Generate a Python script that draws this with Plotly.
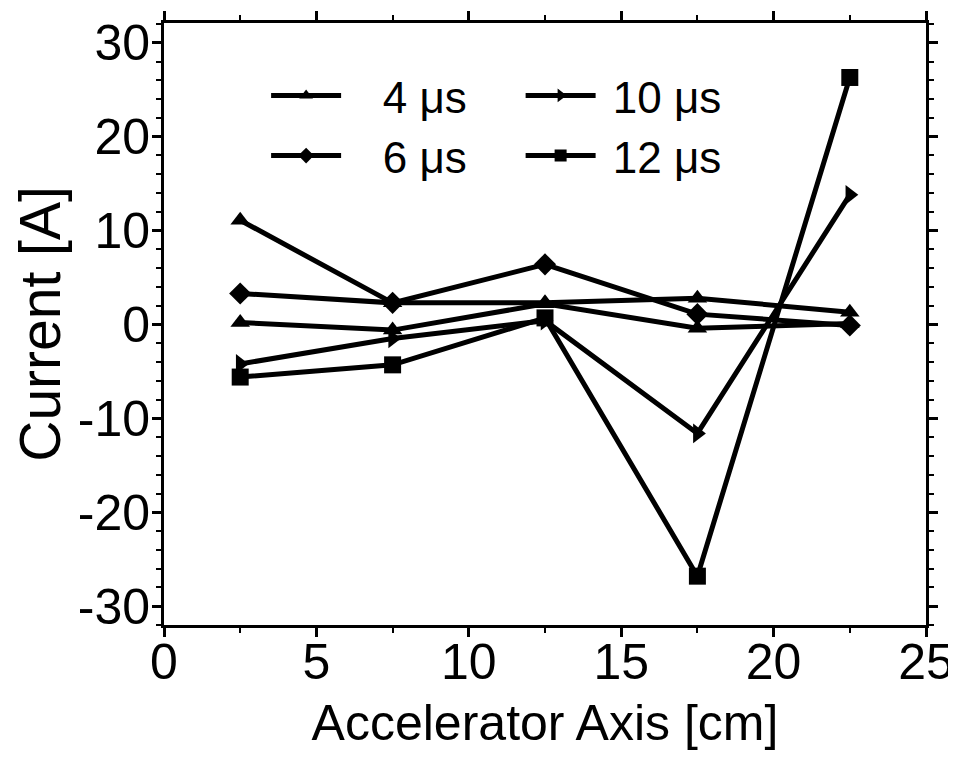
import plotly.graph_objects as go

x_cm = [2.5, 7.5, 12.5, 17.5, 22.5]
i_4us = [11.1, 2.3, 2.3, 2.8, 1.3]
i_6us = [3.3, 2.3, 6.4, 1.1, -0.1]
i_10us = [-4.2, -1.5, 0.4, -11.6, 13.8]
i_12us = [-5.6, -4.3, 0.7, -26.8, 26.3]
i_extra = [0.2, -0.6, 2.2, -0.4, 0.1]

x_ticks = [0, 5, 10, 15, 20, 25]
y_ticks = [-30, -20, -10, 0, 10, 20, 30]
y_ticktext = ["-30", "-20", "-10", "0", "10", "20", "30"]

FONT = "Liberation Sans, Arial, sans-serif"
NB1 = "\u00a0\u00a0\u00a0"
NB2 = "\u00a0"

fig = go.Figure()

def add(y, name, symbol, legend="legend", show=True):
    fig.add_trace(go.Scatter(
        x=x_cm, y=y, name=name, mode="lines+markers",
        line=dict(color="black", width=5),
        marker=dict(symbol=symbol, size=17, color="black"),
        showlegend=show, legend=legend,
    ))

add(i_extra, "", "triangle-up", show=False)
add(i_4us, NB1 + "4 μs", "triangle-up", "legend")
add(i_6us, NB1 + "6 μs", "diamond", "legend")
add(i_10us, NB2 + "10 μs", "triangle-right", "legend2")
add(i_12us, NB2 + "12 μs", "square", "legend2")

axis_common = dict(
    showline=True, linecolor="black", linewidth=3, mirror="ticks",
    ticks="outside", ticklen=9, tickwidth=3, tickcolor="black",
    showgrid=False, zeroline=False, automargin=False,
    ticklabeloverflow="allow",
    tickfont=dict(family=FONT, size=50, color="black"),
)

fig.update_xaxes(
    range=[0, 25], tickvals=x_ticks, ticklabelstandoff=-18,
    minor=dict(dtick=2.5, tick0=0, ticks="outside", ticklen=5, tickwidth=2, tickcolor="black"),
    title=dict(text="Accelerator Axis [cm]", font=dict(family=FONT, size=50, color="black"), standoff=16),
    **axis_common,
)
fig.update_yaxes(
    range=[-32.0, 32.1], tickvals=y_ticks, ticktext=y_ticktext, ticklabelstandoff=-8,
    minor=dict(dtick=2, tick0=0, ticks="outside", ticklen=5, tickwidth=2, tickcolor="black"),
    title=dict(text="Current [A]", font=dict(family=FONT, size=57, color="black"), standoff=19),
    **axis_common,
)

legend_common = dict(
    orientation="v", xanchor="left", yanchor="top", itemwidth=70,
    itemsizing="constant",
    font=dict(family=FONT, size=44, color="black"),
    bgcolor="rgba(0,0,0,0)", tracegroupgap=0,
)

fig.update_layout(
    width=948, height=765,
    margin=dict(l=156, r=30, t=15, b=148),
    plot_bgcolor="white", paper_bgcolor="white",
    font=dict(family=FONT, color="black"),
    legend=dict(x=0.134, y=0.938, **legend_common),
    legend2=dict(x=0.468, y=0.938, **legend_common),
)

fig.write_html("out.html")
